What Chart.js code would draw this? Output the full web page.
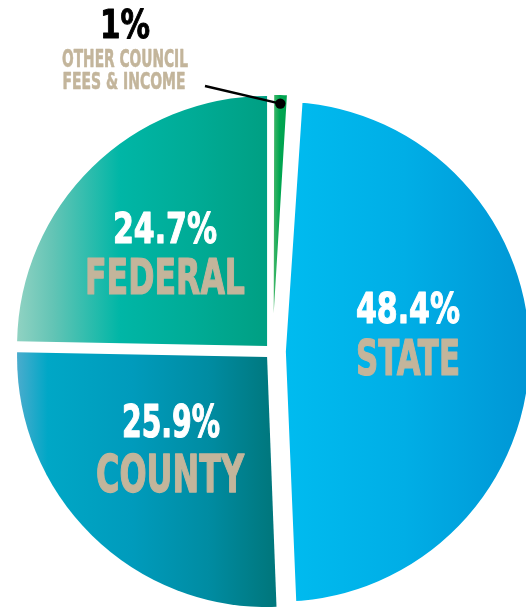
<!DOCTYPE html>
<html>
<head>
<meta charset="utf-8">
<script src="https://cdn.jsdelivr.net/npm/chart.js@4/dist/chart.umd.min.js"></script>
<style>
    html, body { margin: 0; padding: 0; background: #ffffff; overflow: hidden; }
    #chart-wrap { position: relative; width: 526px; height: 607px; }
</style>
</head>
<body>
<div id="chart-wrap"><canvas id="funding-chart"></canvas></div>
<script>
// data, clockwise from 12 o'clock
const categories = ['Other Council Fees & Income', 'State', 'County', 'Federal'];
const shares = [1, 48.4, 25.9, 24.7];
const percentLabels = ['1%', '48.4%', '25.9%', '24.7%'];
const nameLabels = [['OTHER COUNCIL', 'FEES & INCOME'], ['STATE'], ['COUNTY'], ['FEDERAL']];

const PIE_RADIUS = 250;
const FONT = '"Liberation Sans Narrow", "DejaVu Sans Condensed", "Liberation Sans", sans-serif';
const BEIGE = '#C3B59B';

// exploded look: offset pushes a slice out, white border eats into it
const SLICE_OFFSET = [16, 28, 31, 31];
const SLICE_BORDER = [2, 12.7, 0, 0];

// horizontal gradients, span given in radius units from the pie centre
const GRADIENTS = [
    { span: [0, 0.07], stops: [[0, '#4DB96C'], [0.4, '#00A651'], [1, '#00A04E']] },
    { span: [0, 1], stops: [[0, '#00BCF0'], [0.5, '#00AEE6'], [1, '#0096D5']] },
    { span: [-1, 0.02], stops: [[0, '#4AACCD'], [0.12, '#00A7C6'], [0.45, '#009BBC'], [0.75, '#008CA2'], [1, '#00777D']] },
    { span: [-1, -0.02], stops: [[0, '#90D2C2'], [0.15, '#62C4B5'], [0.42, '#00B6A6'], [0.7, '#00AC97'], [1, '#00A084']] }
];

// text placement: [centre x, baseline, cap height, width]
const NAME_LAYOUT = [
    [[125, 67, 17, 126], [124, 89, 16.5, 123]],
    [[408, 375, 35, 104]],
    [[170, 492, 37, 148]],
    [[165, 294, 35, 160]]
];
const PERCENT_LAYOUT = [
    [125, 38, 28, 50],
    [408, 323, 31, 104],
    [171, 437, 32, 98],
    [165, 243, 31, 104]
];
const PERCENT_COLORS = ['#000000', '#ffffff', '#ffffff', '#ffffff'];
const LEADER_START = [205, 86];

function sliceFill(context) {
    const chart = context.chart;
    const area = chart.chartArea;
    const g = GRADIENTS[context.dataIndex];
    if (!area) {
        return g.stops[0][1];
    }
    const cx = (area.left + area.right) / 2;
    const grad = chart.ctx.createLinearGradient(cx + g.span[0] * PIE_RADIUS, 0, cx + g.span[1] * PIE_RADIUS, 0);
    g.stops.forEach(s => grad.addColorStop(s[0], s[1]));
    return grad;
}

function drawFitted(ctx, text, layout, color) {
    const [x, baseline, cap, width] = layout;
    ctx.save();
    ctx.font = `bold ${Math.round(cap / 0.72)}px ${FONT}`;
    const measured = ctx.measureText(text).width;
    ctx.translate(x, baseline);
    ctx.scale(width / measured, 1);
    ctx.fillStyle = color;
    ctx.strokeStyle = color;
    ctx.lineWidth = cap * 0.035;
    ctx.lineJoin = 'round';
    ctx.textAlign = 'center';
    ctx.textBaseline = 'alphabetic';
    ctx.fillText(text, 0, 0);
    ctx.strokeText(text, 0, 0);
    ctx.restore();
}

const sliceLabels = {
    id: 'sliceLabels',
    afterDraw(chart) {
        const ctx = chart.ctx;
        const meta = chart.getDatasetMeta(0);

        // leader line to the small slice
        const arc = meta.data[0];
        const mid = (arc.startAngle + arc.endAngle) / 2;
        const shift = SLICE_OFFSET[0] / 4;
        const dotR = arc.outerRadius - 6;
        const dx = arc.x + Math.cos(mid) * (shift + dotR);
        const dy = arc.y + Math.sin(mid) * (shift + dotR);
        ctx.save();
        ctx.strokeStyle = '#000000';
        ctx.lineWidth = 2.4;
        ctx.beginPath();
        ctx.moveTo(LEADER_START[0], LEADER_START[1]);
        ctx.lineTo(dx, dy);
        ctx.stroke();
        ctx.fillStyle = '#000000';
        ctx.beginPath();
        ctx.arc(dx, dy, 5.2, 0, Math.PI * 2);
        ctx.fill();
        ctx.restore();

        percentLabels.forEach((txt, i) => {
            drawFitted(ctx, txt, PERCENT_LAYOUT[i], PERCENT_COLORS[i]);
            nameLabels[i].forEach((line, j) => {
                drawFitted(ctx, line, NAME_LAYOUT[i][j], BEIGE);
            });
        });
    }
};

function initChart() {
    const ctx = document.getElementById('funding-chart').getContext('2d');
    new Chart(ctx, {
        type: 'pie',
        data: {
            labels: categories,
            datasets: [{
                data: shares,
                backgroundColor: sliceFill,
                borderColor: '#ffffff',
                borderWidth: SLICE_BORDER,
                offset: SLICE_OFFSET,
                hoverOffset: 0,
                radius: PIE_RADIUS
            }]
        },
        options: {
            responsive: true,
            maintainAspectRatio: false,
            animation: false,
            events: [],
            layout: { padding: { left: 19, top: 96, right: 0, bottom: 0 } },
            plugins: {
                legend: { display: false },
                tooltip: { enabled: false }
            }
        },
        plugins: [sliceLabels]
    });
}

document.addEventListener('DOMContentLoaded', initChart);
</script>
</body>
</html>
